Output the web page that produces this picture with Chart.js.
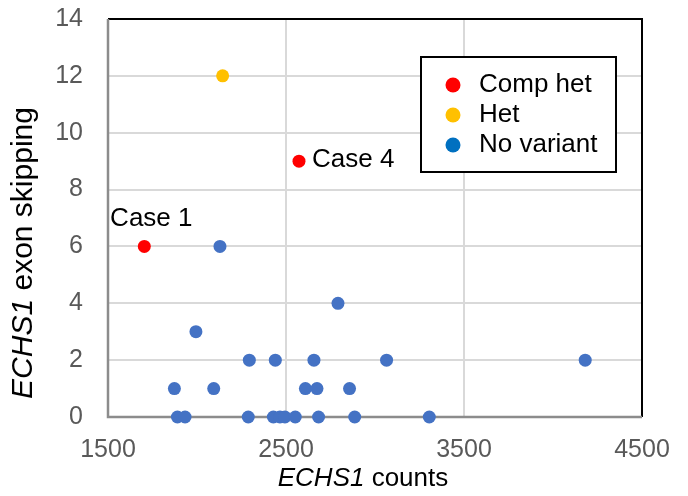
<!DOCTYPE html>
<html>
<head>
<meta charset="utf-8">
<script src="https://cdn.jsdelivr.net/npm/chart.js@4"></script>
<style>
  html, body { margin: 0; padding: 0; background: #fff; }
</style>
</head>
<body>
<canvas id="chart" width="688" height="496"></canvas>
<script>
// data
const seriesNames = ["Comp het", "Het", "No variant"];

const compHetX = [1704, 2573];
const compHetY = [6, 9];
const caseLabels = ["Case 1", "Case 4"];

const hetX = [2144];
const hetY = [12];

const noVariantX = [2129, 2792, 1994, 2294, 2440, 2657, 3065, 4181,
                    1873, 2094, 2609, 2674, 2857,
                    1890, 1933, 2288, 2429, 2466, 2494, 2552, 2683, 2886, 3305];
const noVariantY = [6, 4, 3, 2, 2, 2, 2, 2,
                    1, 1, 1, 1, 1,
                    0, 0, 0, 0, 0, 0, 0, 0, 0, 0];

const xTicks = [1500, 2500, 3500, 4500];
const yTicks = [0, 2, 4, 6, 8, 10, 12, 14];

const FONT = '"Liberation Sans", Arial, sans-serif';
const RED = "#FF0000", GOLD = "#FFC000", BLUE = "#4472C4";
const legendColors = [RED, GOLD, "#0070C0"];

function toPoints(xs, ys) {
    return xs.map((x, i) => ({ x: x, y: ys[i] }));
}

// plot frame: black box with grey axis lines on left/bottom
const framePlugin = {
    id: "frame",
    beforeDatasetsDraw(chart) {
        const { ctx, chartArea: a } = chart;
        ctx.save();
        ctx.strokeStyle = "#000";
        ctx.lineWidth = 2;
        ctx.beginPath();
        ctx.moveTo(a.left, a.top);
        ctx.lineTo(a.right, a.top);
        ctx.lineTo(a.right, a.bottom);
        ctx.stroke();
        ctx.strokeStyle = "#8C8C8C";
        ctx.lineWidth = 2.5;
        ctx.beginPath();
        ctx.moveTo(a.left, a.top);
        ctx.lineTo(a.left, a.bottom);
        ctx.lineTo(a.right, a.bottom);
        ctx.stroke();
        ctx.restore();
    }
};

function drawMixed(ctx, parts, cx, cy) {
    let total = 0;
    parts.forEach(p => { ctx.font = p.font; p.w = ctx.measureText(p.text).width; total += p.w; });
    let x = cx - total / 2;
    parts.forEach(p => { ctx.font = p.font; ctx.fillText(p.text, x, cy); x += p.w; });
}

const annotPlugin = {
    id: "annot",
    afterDatasetsDraw(chart) {
        const ctx = chart.ctx;
        ctx.save();
        ctx.fillStyle = "#000";
        ctx.textBaseline = "middle";

        // case labels on the comp het points
        const pts = chart.getDatasetMeta(0).data;
        ctx.font = "26px " + FONT;
        ctx.textAlign = "center";
        ctx.fillText(caseLabels[0], pts[0].x + 7, pts[0].y - 28);
        ctx.textAlign = "left";
        ctx.fillText(caseLabels[1], pts[1].x + 13, pts[1].y - 1);

        // axis titles
        ctx.textAlign = "left";
        drawMixed(ctx, [
            { text: "ECHS1", font: "italic 26px " + FONT },
            { text: " counts", font: "26px " + FONT }
        ], 363, 479);
        ctx.translate(24, 253);
        ctx.rotate(-Math.PI / 2);
        drawMixed(ctx, [
            { text: "ECHS1", font: "italic 30px " + FONT },
            { text: " exon skipping", font: "30px " + FONT }
        ], 0, 0);
        ctx.restore();

        // legend box
        ctx.save();
        const bx = 421, by = 57, bw = 195, bh = 115;
        ctx.fillStyle = "#fff";
        ctx.fillRect(bx, by, bw, bh);
        ctx.strokeStyle = "#000";
        ctx.lineWidth = 2;
        ctx.strokeRect(bx, by, bw, bh);
        ctx.font = "26px " + FONT;
        ctx.textAlign = "left";
        ctx.textBaseline = "middle";
        const rowY = [85, 115, 145];
        seriesNames.forEach((name, i) => {
            ctx.fillStyle = legendColors[i];
            ctx.beginPath();
            ctx.arc(453, rowY[i], 7.5, 0, Math.PI * 2);
            ctx.fill();
            ctx.fillStyle = "#000";
            ctx.fillText(name, 479, rowY[i]);
        });
        ctx.restore();
    }
};

new Chart(document.getElementById("chart"), {
    type: "scatter",
    data: {
        datasets: [
            { label: seriesNames[0], data: toPoints(compHetX, compHetY),
              backgroundColor: RED, borderColor: RED, pointRadius: 6.5, clip: false },
            { label: seriesNames[1], data: toPoints(hetX, hetY),
              backgroundColor: GOLD, borderColor: GOLD, pointRadius: 6.5, clip: false },
            { label: seriesNames[2], data: toPoints(noVariantX, noVariantY),
              backgroundColor: BLUE, borderColor: BLUE, pointRadius: 6.5, clip: false }
        ]
    },
    options: {
        responsive: false,
        animation: false,
        layout: { padding: { top: 19, right: 46, left: 0, bottom: 0 } },
        plugins: { legend: { display: false }, tooltip: { enabled: false } },
        elements: { point: { borderWidth: 0, hoverRadius: 6.5 } },
        scales: {
            x: {
                type: "linear",
                min: xTicks[0],
                max: xTicks[xTicks.length - 1],
                afterBuildTicks: s => { s.ticks = xTicks.map(v => ({ value: v })); },
                afterFit: s => { s.height = 79; s.paddingLeft = 0; s.paddingRight = 0; },
                border: { display: false },
                grid: { color: "#D9D9D9", lineWidth: 2, drawTicks: false },
                ticks: { color: "#595959", padding: 18, font: { family: FONT, size: 25 },
                         callback: v => String(v) }
            },
            y: {
                type: "linear",
                min: yTicks[0],
                max: yTicks[yTicks.length - 1],
                afterBuildTicks: s => { s.ticks = yTicks.map(v => ({ value: v })); },
                afterFit: s => { s.width = 108; s.paddingTop = 0; s.paddingBottom = 0; },
                border: { display: false },
                grid: { color: "#D9D9D9", lineWidth: 2, drawTicks: false },
                ticks: { color: "#595959", padding: 25, font: { family: FONT, size: 25 },
                         callback: v => String(v) }
            }
        }
    },
    plugins: [framePlugin, annotPlugin]
});
</script>
</body>
</html>
